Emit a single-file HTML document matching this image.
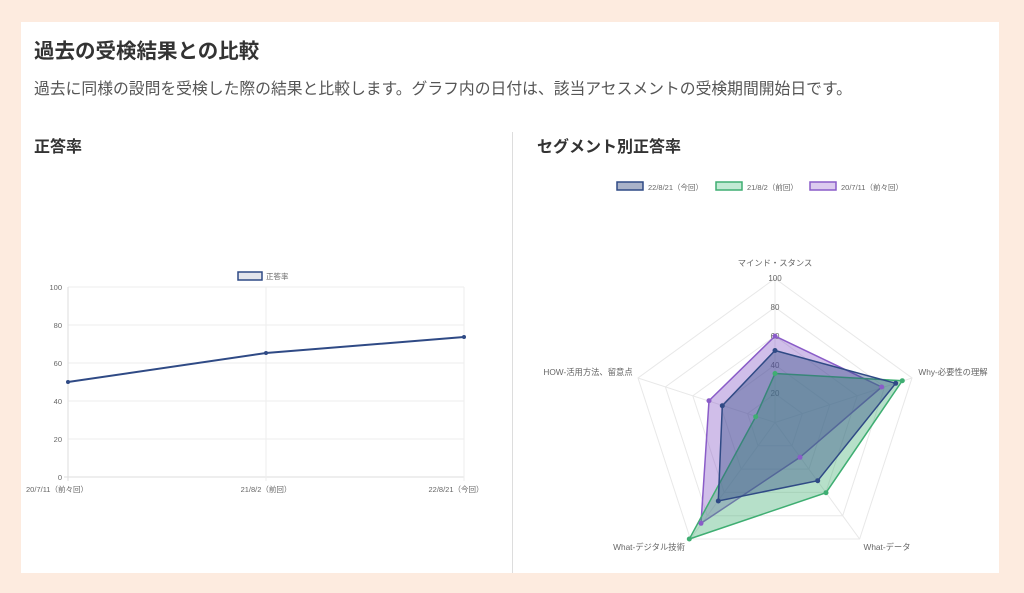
<!DOCTYPE html>
<html><head><meta charset="utf-8"><style>
html,body{margin:0;padding:0;width:1024px;height:593px;background:#fdebdf;overflow:hidden;font-family:"Liberation Sans","Noto Sans CJK JP",sans-serif;}
.card{position:absolute;left:21px;top:22px;width:978px;height:551px;background:#fff;}
</style></head><body>
<div class="card"></div>
<svg width="1024" height="593" style="position:absolute;left:0;top:0" font-family="Liberation Sans, Noto Sans CJK JP, sans-serif">
<text x="34" y="58" font-size="20.5" font-weight="bold" fill="#333">過去の受検結果との比較</text>
<text x="34" y="94" font-size="15.8" fill="#555">過去に同様の設問を受検した際の結果と比較します。グラフ内の日付は、該当アセスメントの受検期間開始日です。</text>
<text x="34" y="152" font-size="16" font-weight="bold" fill="#333">正答率</text>
<text x="537" y="152" font-size="16" font-weight="bold" fill="#333">セグメント別正答率</text>
<line x1="512.5" y1="132" x2="512.5" y2="573" stroke="#ddd"/>
<!-- line chart -->
<g stroke="#eee" stroke-width="1">
<line x1="68" y1="287" x2="464" y2="287"/><line x1="68" y1="325" x2="464" y2="325"/>
<line x1="68" y1="363" x2="464" y2="363"/><line x1="68" y1="401" x2="464" y2="401"/>
<line x1="68" y1="439" x2="464" y2="439"/><line x1="64" y1="477" x2="464" y2="477" stroke="#ddd"/>
<line x1="68" y1="287" x2="68" y2="481" stroke="#ddd"/><line x1="266" y1="287" x2="266" y2="481"/><line x1="464" y1="287" x2="464" y2="481"/>
</g>
<g font-size="7.5" fill="#666" text-anchor="end">
<text x="62" y="290">100</text><text x="62" y="328">80</text><text x="62" y="366">60</text><text x="62" y="404">40</text><text x="62" y="442">20</text><text x="62" y="480">0</text>
</g>
<g font-size="7.5" fill="#666" text-anchor="middle">
<text x="57" y="492">20/7/11（前々回）</text><text x="266" y="492">21/8/2（前回）</text><text x="456" y="492">22/8/21（今回）</text>
</g>
<rect x="238" y="272" width="24" height="8" fill="#e3e5ec" stroke="#2f4a85" stroke-width="1.5"/>
<text x="266" y="279" font-size="7.5" fill="#666">正答率</text>
<polyline points="68,382 266,353 464,337" fill="none" stroke="#2f4a85" stroke-width="2"/>
<g fill="#2f4a85"><circle cx="68" cy="382" r="2"/><circle cx="266" cy="353" r="2"/><circle cx="464" cy="337" r="2"/></g>
<!-- radar legend -->
<rect x="617" y="182" width="26" height="8" fill="#aab3c9" stroke="#2f4a85" stroke-width="1.5"/>
<text x="648" y="190" font-size="7.5" fill="#666">22/8/21（今回）</text>
<rect x="716" y="182" width="26" height="8" fill="#c2ead4" stroke="#3fae72" stroke-width="1.5"/>
<text x="747" y="190" font-size="7.5" fill="#666">21/8/2（前回）</text>
<rect x="810" y="182" width="26" height="8" fill="#dccbef" stroke="#8a5cc8" stroke-width="1.5"/>
<text x="841" y="190" font-size="7.5" fill="#666">20/7/11（前々回）</text>
<!-- radar grid -->
<g fill="none" stroke="#e8e8e8">
<polygon points="775,278.5 912,378 859.6,539 690.4,539 638,378"/>
<polygon points="775,307.3 884.6,386.9 842.7,515.7 707.3,515.7 665.4,386.9"/>
<polygon points="775,336.1 857.2,395.8 825.8,492.4 724.2,492.4 692.8,395.8"/>
<polygon points="775,364.9 829.8,404.7 808.9,469.1 741.1,469.1 720.2,404.7"/>
<polygon points="775,393.7 802.4,413.6 792,445.8 758,445.8 747.6,413.6"/>
<line x1="775" y1="422.5" x2="775" y2="278.5"/><line x1="775" y1="422.5" x2="912" y2="378"/>
<line x1="775" y1="422.5" x2="859.6" y2="539"/><line x1="775" y1="422.5" x2="690.4" y2="539"/>
<line x1="775" y1="422.5" x2="638" y2="378"/>
</g>
<g font-size="8" fill="#666" text-anchor="middle">
<text x="775" y="281">100</text><text x="775" y="310">80</text><text x="775" y="339">60</text><text x="775" y="368">40</text><text x="775" y="396">20</text>
</g>
<g font-size="8.3" fill="#666" text-anchor="middle">
<text x="775" y="266">マインド・スタンス</text>
<text x="953" y="375">Why-必要性の理解</text>
<text x="887" y="550">What-データ</text>
<text x="649" y="550">What-デジタル技術</text>
<text x="588" y="375">HOW-活用方法、留意点</text>
</g>
<!-- series -->
<polygon points="775,336.1 881.7,387 800,457.3 701,523.3 709,400.7" fill="rgba(138,92,200,0.4)" stroke="#8a5cc8" stroke-width="1.5"/>
<polygon points="775,373.5 902.3,380.7 826,492.7 689.3,539 755.7,416.7" fill="rgba(63,174,114,0.38)" stroke="#3fae72" stroke-width="1.5"/>
<polygon points="775,350.5 895.7,383.3 817.7,480.7 718.3,501 722.3,405.7" fill="rgba(47,74,133,0.4)" stroke="#2f4a85" stroke-width="1.5"/>
<g fill="#8a5cc8"><circle cx="775" cy="336.1" r="2.5"/><circle cx="881.7" cy="387" r="2.5"/><circle cx="800" cy="457.3" r="2.5"/><circle cx="701" cy="523.3" r="2.5"/><circle cx="709" cy="400.7" r="2.5"/></g>
<g fill="#3fae72"><circle cx="775" cy="373.5" r="2.5"/><circle cx="902.3" cy="380.7" r="2.5"/><circle cx="826" cy="492.7" r="2.5"/><circle cx="689.3" cy="539" r="2.5"/><circle cx="755.7" cy="416.7" r="2.5"/></g>
<g fill="#2f4a85"><circle cx="775" cy="350.5" r="2.5"/><circle cx="895.7" cy="383.3" r="2.5"/><circle cx="817.7" cy="480.7" r="2.5"/><circle cx="718.3" cy="501" r="2.5"/><circle cx="722.3" cy="405.7" r="2.5"/></g>
</svg>
</body></html>
